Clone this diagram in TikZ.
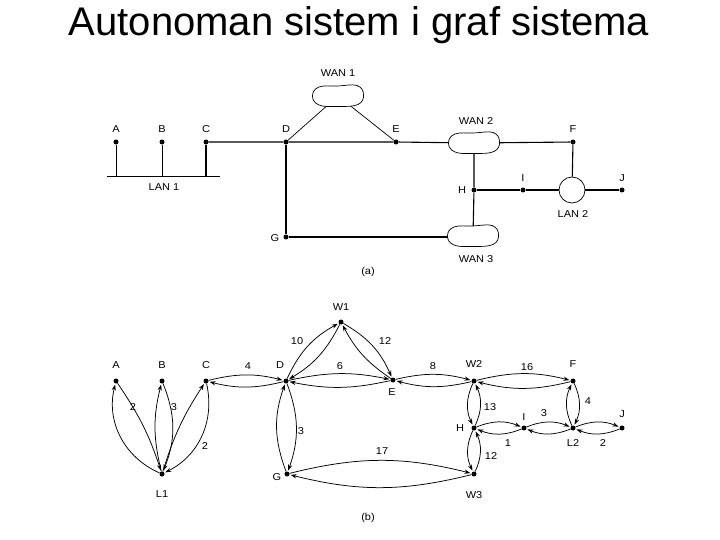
\documentclass[tikz,border=0pt]{standalone}
\usepackage{fontspec}
\setmainfont{Liberation Sans}
\newfontfamily\lblfont[FakeStretch=1.1]{Liberation Sans}
\usetikzlibrary{arrows.meta,calc}
\begin{document}
\begin{tikzpicture}[x=1pt,y=1pt,
  dot/.style={circle,fill=black,inner sep=0pt,minimum size=5pt},
  lbl/.style={font=\lblfont\fontsize{10}{12}\selectfont,inner sep=0pt},
  mainline/.style={line width=1.1pt},
  thinline/.style={line width=0.7pt},
  wan/.style={minimum width=50pt,minimum height=20pt,inner sep=0pt},
  blob/.style={line width=0.7pt},
  lan/.style={draw,circle,minimum size=26pt,line width=0.7pt,inner sep=0pt},
  conn/.style={-{Stealth[length=6pt,width=4.2pt]},line width=0.75pt,shorten >=1pt}]
\useasboundingbox (0,0) rectangle (720,-540);
\node[font=\fontsize{40}{42}\selectfont,inner sep=0pt,anchor=base] (title) at (359,-36) {Autonoman sistem i graf sistema};

% ---------- (a) ----------
\node[dot] (aA) at (116,-142) {};
\node[dot] (aB) at (162,-142) {};
\node[dot] (aC) at (206,-142) {};
\node[dot] (aD) at (286,-142) {};
\node[dot] (aE) at (396,-142) {};
\node[dot] (aF) at (573,-142) {};
\node[dot] (aG) at (286,-237) {};
\node[dot] (aH) at (474,-190) {};
\node[dot] (aI) at (523,-190) {};
\node[dot] (aJ) at (622,-190) {};
\node[wan] (wan1) at (338,-96) {};
\node[wan] (wan2) at (474,-143) {};
\node[wan] (wan3) at (473,-236) {};
\node[lan] (lan2) at (572,-190) {};
\coordinate (lanL) at (107,-176);
\coordinate (lanR) at (220,-176);

% cloud outlines
\foreach \cx/\cy in {338/-96, 474/-143, 473/-236}{
  \draw[blob,shift={(\cx,\cy)}] plot[smooth cycle,tension=0.7] coordinates
    {(-25.5,0) (-19,9) (0,10) (19,10.5) (25.5,1.5) (20,-8.5) (0,-10.5) (-19,-9)};
}

\draw[thinline] (lanL) -- (lanR);
\draw[thinline] (aA) -- (aA |- lanL);
\draw[thinline] (aB) -- (aB |- lanL);
\draw[mainline] (aC) -- (aC |- lanL);
\draw[mainline] (aC) -- (aD) -- (aE) -- (wan2);
\draw[thinline] (aD) -- (wan1);
\draw[thinline] (aE) -- (wan1);
\draw[mainline] (aD) -- (aG);
\draw[mainline] (aG) -- (aG -| wan3.west);
\draw[mainline] (wan2) -- (aF);
\draw[mainline] (aF) -- (lan2);
\draw[mainline] (wan2) -- (aH) -- (wan3);
\draw[mainline] (aH) -- (aI) -- (lan2) -- (aJ);

\node[lbl] (taA) at (116,-129) {A};
\node[lbl] (taB) at (162,-129) {B};
\node[lbl] (taC) at (206,-129) {C};
\node[lbl] (taD) at (286,-129) {D};
\node[lbl] (taE) at (396,-129) {E};
\node[lbl] (taF) at (573,-129) {F};
\node[lbl] (taG) at (275,-238) {G};
\node[lbl] (taH) at (462,-190) {H};
\node[lbl] (taI) at (523,-178) {I};
\node[lbl] (taJ) at (622,-178) {J};
\node[lbl] (tw1) at (338,-73) {WAN 1};
\node[lbl] (tw2) at (476,-121) {WAN 2};
\node[lbl] (tw3) at (476,-259) {WAN 3};
\node[lbl] (tl1) at (164,-187) {LAN 1};
\node[lbl] (tl2) at (573,-214) {LAN 2};
\node[lbl] (tpa) at (368,-272) {(a)};

% ---------- (b) ----------
\node[dot] (bA) at (116,-381) {};
\node[dot] (bB) at (162,-381) {};
\node[dot] (bC) at (206,-381) {};
\node[dot] (bD) at (286,-381) {};
\node[dot] (bE) at (393,-380) {};
\node[dot] (bW1) at (341,-322) {};
\node[dot] (bL1) at (162,-474) {};
\node[dot] (bG) at (287,-474) {};
\node[dot] (bW2) at (474,-381) {};
\node[dot] (bF) at (573,-381) {};
\node[dot] (bH) at (474,-428) {};
\node[dot] (bI) at (524,-428) {};
\node[dot] (bL2) at (573,-428) {};
\node[dot] (bJ) at (622,-428) {};
\node[dot] (bW3) at (474,-474) {};

\draw[conn] (bA) to[bend left=8] (bL1);
\draw[conn] (bL1) to[bend left=40] (bA);
\draw[conn] (bB) to[bend left=22] (bL1);
\draw[conn] (bL1) to[bend left=14] (bB);
\draw[conn] (bC) to[bend left=38] (bL1);
\draw[conn] (bL1) to[bend left=8] (bC);
\draw[conn] (bC) to[bend left=14] (bD);
\draw[conn] (bD) to[bend left=14] (bC);
\draw[conn] (bD) to[bend left=18] (bW1);
\draw[conn] (bW1) to[bend left=16] (bD);
\draw[conn] (bW1) to[bend left=18] (bE);
\draw[conn] (bE) to[bend left=14] (bW1);
\draw[conn] (bD) to[bend left=12] (bE);
\draw[conn] (bE) to[bend left=12] (bD);
\draw[conn] (bD) to[bend left=20] (bG);
\draw[conn] (bG) to[bend left=20] (bD);
\draw[conn] (bG) to[bend left=14] (bW3);
\draw[conn] (bW3) to[bend left=14] (bG);
\draw[conn] (bE) to[bend left=14] (bW2);
\draw[conn] (bW2) to[bend left=14] (bE);
\draw[conn] (bW2) to[bend left=14] (bF);
\draw[conn] (bF) to[bend left=14] (bW2);
\draw[conn] (bW2) to[bend right=25] (bH);
\draw[conn] (bH) to[bend right=25] (bW2);
\draw[conn] (bH) to[bend right=25] (bW3);
\draw[conn] (bW3) to[bend right=25] (bH);
\draw[conn] (bH) to[bend left=22] (bI);
\draw[conn] (bI) to[bend left=22] (bH);
\draw[conn] (bI) to[bend left=22] (bL2);
\draw[conn] (bL2) to[bend left=22] (bI);
\draw[conn] (bL2) to[bend left=22] (bJ);
\draw[conn] (bJ) to[bend left=22] (bL2);
\draw[conn] (bF) to[bend left=25] (bL2);
\draw[conn] (bL2) to[bend left=25] (bF);

\node[lbl] (tbA) at (116,-365) {A};
\node[lbl] (tbB) at (162,-365) {B};
\node[lbl] (tbC) at (206,-365) {C};
\node[lbl] (tbD) at (280,-365) {D};
\node[lbl] (tbE) at (392,-392) {E};
\node[lbl] (tbW1) at (341,-307) {W1};
\node[lbl] (tbL1) at (162,-494) {L1};
\node[lbl] (tbG) at (277,-477) {G};
\node[lbl] (tbW2) at (474,-364) {W2};
\node[lbl] (tbF) at (573,-364) {F};
\node[lbl] (tbH) at (460,-428) {H};
\node[lbl] (tbI) at (524,-417) {I};
\node[lbl] (tbL2) at (573,-443) {L2};
\node[lbl] (tbJ) at (622,-414) {J};
\node[lbl] (tbW3) at (474,-495) {W3};
\node[lbl] (tpb) at (368,-518) {(b)};

\node[lbl] (c1) at (133,-407) {2};
\node[lbl] (c2) at (174,-407) {3};
\node[lbl] (c3) at (205,-446) {2};
\node[lbl] (c4) at (248,-366) {4};
\node[lbl] (c5) at (297,-341) {10};
\node[lbl] (c6) at (385,-341) {12};
\node[lbl] (c7) at (340,-366) {6};
\node[lbl] (c8) at (301,-431) {3};
\node[lbl] (c9) at (382,-451) {17};
\node[lbl] (c10) at (433,-366) {8};
\node[lbl] (c11) at (527,-367) {16};
\node[lbl] (c12) at (490,-407) {13};
\node[lbl] (c13) at (491,-456) {12};
\node[lbl] (c14) at (508,-443) {1};
\node[lbl] (c15) at (544,-413) {3};
\node[lbl] (c16) at (588,-401) {4};
\node[lbl] (c17) at (603,-443) {2};
\end{tikzpicture}
\end{document}
